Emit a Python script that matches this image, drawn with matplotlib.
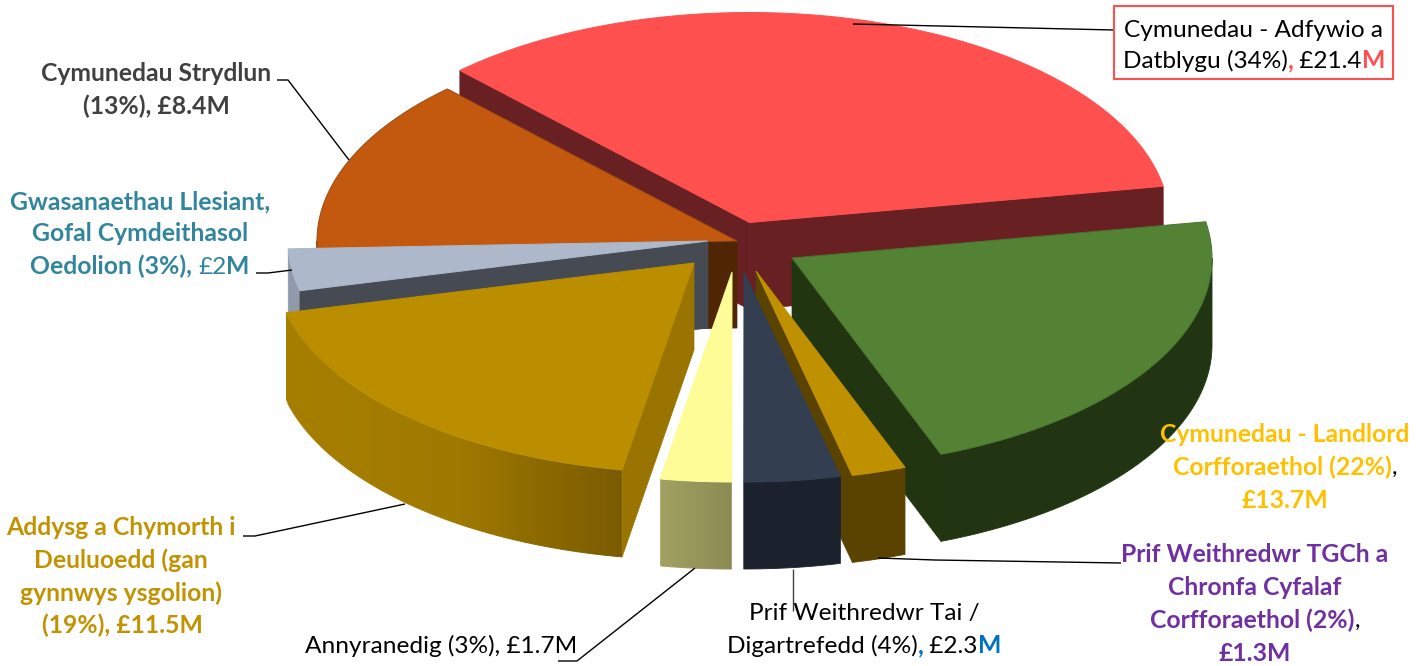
import numpy as np
import matplotlib
matplotlib.use("Agg")
import matplotlib.pyplot as plt
from matplotlib.colors import to_rgb
from matplotlib.patches import Polygon, Rectangle

plt.rcParams['font.family'] = ['Lato', 'DejaVu Sans']

# ---- data ----
categories = ["Cymunedau - Adfywio a Datblygu", "Cymunedau - Landlord Corfforaethol",
              "Prif Weithredwr TGCh a Chronfa Cyfalaf Corfforaethol",
              "Prif Weithredwr Tai / Digartrefedd", "Annyranedig",
              "Addysg a Chymorth i Deuluoedd", "Gwasanaethau Llesiant, Gofal Cymdeithasol Oedolion",
              "Cymunedau Strydlun"]
values = [21.4, 13.7, 1.3, 2.3, 1.7, 11.5, 2.0, 8.4]

# ---- styles ----
top_colors = ['#ff5050', '#548235', '#bf9000', '#333f50', '#fdfc97', '#bb8e00', '#adb9ca', '#c3590f']
cut_colors = ['#682022', '#203510', '#5a4300', '#1a212c', '#8f8e54', '#997400', '#464b53', '#4f2504']
wall_stops = [['#682022'], ['#223512'], ['#5a4300'], ['#1b222d'],
              ['#a3a263', '#8b8a52'], ['#a67f00', '#a07a00', '#7a5b00'], ['#909aaa'], ['#4f2504']]
edge_colors = ['#ff5050', '#4a7430', '#bf9000', '#333f50', '#fdfc97', '#bb8e00', '#adb9ca', '#9a4a10']
apex_x = [749.5, 792, 756, 744, 732, 694, 708, 737]
apex_y = [222.5, 258, 271, 272, 272, 263, 241, 241]
draw_order = [0, 7, 6, 1, 5, 2, 3, 4]
RX, RY, DEPTH, START = 420, 210, 87, -43.6

RED, GREEN_Y, PURPLE, TEAL, GOLD, DARK, BLUE = '#ff5050', '#ffc000', '#7030a0', '#31859c', '#c29200', '#404040', '#0070c0'
FS = 17.6
FS_BOLD = 17.8

fig = plt.figure(figsize=(14.28, 6.66), dpi=100, facecolor='white')
ax = fig.add_axes([0, 0, 1, 1])
ax.axis('off')

shares = np.array(values) / np.sum(values) * 360
edges = START + np.concatenate([[0], np.cumsum(shares)])


def rim(cx, cy, deg):
    t = np.radians(deg)
    return cx + RX * np.sin(t), cy - RY * np.cos(t)


for i in draw_order:
    cx, cy = apex_x[i], apex_y[i]
    t0, t1 = edges[i], edges[i + 1]
    z = draw_order.index(i) * 10 + 1
    # outer wall: only the arc that faces the viewer
    if t0 >= 0:
        a0, a1 = max(t0, 90), min(t1, 270)
        if a1 > a0:
            th = np.linspace(a0, a1, 200)
            xs, ys = rim(cx, cy, th)
            outline = np.vstack([np.column_stack([xs, ys]), np.column_stack([xs, ys + DEPTH])[::-1]])
            stops = wall_stops[i]
            if len(stops) == 1:
                ax.add_patch(Polygon(outline, closed=True, fc=stops[0], ec=stops[0], lw=0.6, zorder=z))
            else:
                rgb = np.array([to_rgb(c) for c in stops])
                f = np.linspace(0, 1, 256)
                pos = np.linspace(0, 1, len(rgb))
                grad = np.stack([np.interp(f, pos, rgb[:, k]) for k in range(3)], axis=-1)[None, :, :]
                patch = Polygon(outline, closed=True, fc='none', ec='none', transform=ax.transData)
                ax.add_patch(patch)
                im = ax.imshow(grad, extent=(xs.min(), xs.max(), ys.max() + DEPTH, ys.min()),
                               aspect='auto', interpolation='bilinear', zorder=z)
                im.set_clip_path(patch)
                # soft line along the lower edge, so that it is not jagged
                mid = tuple(rgb.mean(axis=0))
                for k in range(0, len(xs) - 4, 4):
                    fx = (xs[k] - xs.min()) / max(xs.max() - xs.min(), 1)
                    col = [np.interp(fx, pos, rgb[:, c]) for c in range(3)]
                    ax.plot(xs[k:k + 5], ys[k:k + 5] + DEPTH, color=col, lw=0.7, zorder=z,
                            solid_capstyle='butt')
    # radial cut faces that can be seen
    for deg, visible in ((t0, np.sin(np.radians(t0)) < -1e-3), (t1, np.sin(np.radians(t1)) > 1e-3)):
        if visible:
            rx, ry = rim(cx, cy, deg)
            ax.add_patch(Polygon([(cx, cy), (rx, ry), (rx, ry + DEPTH), (cx, cy + DEPTH)],
                                 closed=True, fc=cut_colors[i], ec=cut_colors[i], lw=0.5, zorder=z + 1))
    # top surface
    th = np.linspace(t0, t1, 200)
    xs, ys = rim(cx, cy, th)
    ax.add_patch(Polygon(np.vstack([[cx, cy], np.column_stack([xs, ys])]), closed=True,
                         fc=top_colors[i], ec=edge_colors[i], lw=0.7, joinstyle='miter', zorder=z + 2))

ax.set_xlim(0, 1428)
ax.set_ylim(666, 0)

# ---- leader lines ----
Z = 200
leaders = [
    ([853, 1114], [24, 30], 'black'),
    ([277, 288, 349], [80, 80, 160], 'black'),
    ([256, 268, 292], [273, 273, 270], 'black'),
    ([243, 255, 405], [536, 536, 504], 'black'),
    ([558, 577, 695], [661, 661, 568], 'black'),
    ([793, 793], [569, 611], '#404040'),
    ([878, 935, 1121], [558, 560, 563], 'black'),
]
for xs, ys, c in leaders:
    ax.plot(xs, ys, color=c, lw=1.0, solid_capstyle='butt', zorder=Z)

ax.add_patch(Rectangle((1114, 6), 279, 73, fc='white', ec=RED, lw=1.5, zorder=Z))

# ---- labels (mixed-colour runs on one line) ----
renderer = fig.canvas.get_renderer()


def size_of(weight):
    return FS_BOLD if weight == 'bold' else FS


def width(s, weight):
    probe = ax.text(0, 0, s + '|', fontsize=size_of(weight), fontweight=weight)
    bar = ax.text(0, 0, '|', fontsize=size_of(weight), fontweight=weight)
    w = probe.get_window_extent(renderer).width - bar.get_window_extent(renderer).width
    probe.remove()
    bar.remove()
    return w


def line(xc, yc, runs):
    ws = [width(s, w) for s, c, w in runs]
    x = xc - sum(ws) / 2
    for (s, c, w), dx in zip(runs, ws):
        ax.text(x, yc + 8, s, color=c, fontsize=size_of(w), fontweight=w, ha='left', va='baseline', zorder=Z + 1)
        x += dx


B, N = 'bold', 'normal'
K = 'black'
label_lines = [
    (1254, 29, [("Cymunedau - Adfywio a", K, N)]),
    (1254, 60, [("Datblygu (34%)", K, N), (",", RED, B), (" £21.4", K, N), ("M", RED, B)]),
    (1285, 434, [("Cymunedau - Landlord", GREEN_Y, B)]),
    (1285, 467, [("Corfforaethol (22%)", GREEN_Y, B), (",", K, N)]),
    (1285, 500, [("£13.7M", GREEN_Y, B)]),
    (1255, 554, [("Prif Weithredwr TGCh a", PURPLE, B)]),
    (1255, 587, [("Chronfa Cyfalaf", PURPLE, B)]),
    (1255, 620, [("Corfforaethol (2%)", PURPLE, B), (",", K, N)]),
    (1255, 653, [("£1.3M", PURPLE, B)]),
    (864, 612, [("Prif Weithredwr Tai /", K, N)]),
    (864, 645, [("Digartrefedd (4%)", K, N), (",", BLUE, B), (" £2.3", K, N), ("M", BLUE, B)]),
    (441, 645, [("Annyranedig (3%), £1.7M", K, N)]),
    (121, 527, [("Addysg a Chymorth i", GOLD, B)]),
    (121, 560, [("Deuluoedd (gan", GOLD, B)]),
    (121, 593, [("gynnwys ysgolion)", GOLD, B)]),
    (122, 625, [("(19%), £11.5M", GOLD, B)]),
    (140, 201, [("Gwasanaethau Llesiant,", TEAL, B)]),
    (140, 233, [("Gofal Cymdeithasol", TEAL, B)]),
    (140, 266, [("Oedolion (3%), ", TEAL, B), ("£2", TEAL, N), ("M", TEAL, B)]),
    (156, 73, [("Cymunedau Strydlun", DARK, B)]),
    (156, 106, [("(13%), £8.4M", DARK, B)]),
]
for xc, yc, runs in label_lines:
    line(xc, yc, runs)

fig.savefig('out.png', dpi=100, facecolor='white')
